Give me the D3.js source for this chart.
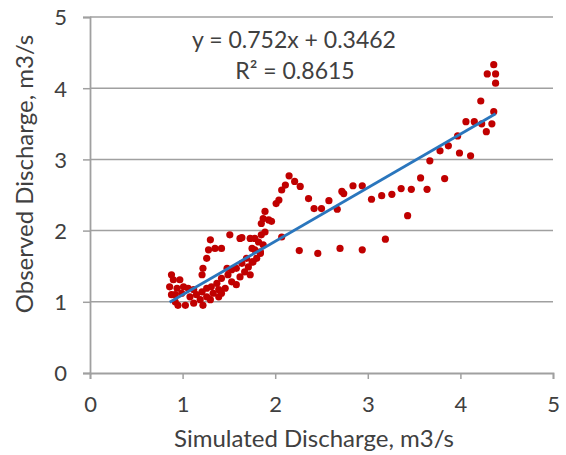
<!DOCTYPE html>
<html><head><meta charset="utf-8">
<script src="https://cdn.jsdelivr.net/npm/d3@7"></script>
<style>
html,body{margin:0;padding:0;background:#fff;}
svg{display:block;}
text{font-family:"Lato","Open Sans",sans-serif;fill:#404040;}
</style></head>
<body>
<svg id="chart" width="566" height="455"></svg>
<script>
// Data
const simulated = [
  0.86,0.88,0.88,0.90,0.92,0.92,0.94,0.95,0.97,0.99,1.01,1.03,1.06,1.08,1.12,1.12,1.15,1.19,1.21,1.21,1.22,1.22,
  1.26,1.26,1.26,1.28,1.30,1.30,1.31,1.33,1.35,1.37,1.39,1.39,1.42,1.42,1.42,1.46,1.48,1.49,1.51,1.53,1.53,
  1.58,1.58,1.62,1.62,1.64,1.64,1.67,1.69,1.71,1.73,1.73,1.75,1.75,1.76,1.78,1.78,1.80,1.82,1.84,1.84,1.85,
  1.85,1.87,1.87,1.89,1.89,1.93,1.96,2.01,2.04,2.07,2.07,2.11,2.15,2.21,2.26,2.27,2.36,2.42,2.46,2.50,2.58,
  2.67,2.70,2.72,2.74,2.84,2.94,2.94,3.04,3.15,3.19,3.26,3.36,3.43,3.47,3.57,3.64,3.67,3.78,3.83,3.87,3.97,
  3.99,4.06,4.11,4.15,4.22,4.23,4.28,4.29,4.34,4.36,4.36,4.38,4.38
];
const observed = [
  1.21,1.38,1.10,1.31,1.00,1.10,1.19,0.95,1.31,1.12,1.21,0.95,1.19,1.07,1.17,0.98,1.10,1.03,1.14,1.38,1.47,0.95,
  1.61,1.19,1.07,1.73,1.87,1.03,1.21,1.12,1.75,1.26,1.17,1.07,1.75,1.33,1.12,1.19,1.47,1.38,1.94,1.28,1.45,
  1.24,1.47,1.35,1.89,1.54,1.90,1.42,1.61,1.49,1.38,1.89,1.56,1.75,1.56,1.73,1.89,1.61,1.84,1.70,1.68,1.94,
  2.10,1.80,2.17,1.98,2.27,2.15,2.13,2.38,2.43,2.57,1.91,2.64,2.77,2.69,1.72,2.62,2.45,2.31,1.68,2.31,2.42,
  2.30,1.75,2.55,2.52,2.63,2.63,1.73,2.44,2.49,1.88,2.51,2.59,2.21,2.58,2.74,2.58,2.98,3.12,2.73,3.19,3.33,
  3.09,3.53,3.05,3.53,3.82,3.50,3.39,4.20,3.50,3.67,4.33,4.20,4.07
];
const xTicks = [0,1,2,3,4,5];
const yTicks = [0,1,2,3,4,5];
const slope = 0.752, intercept = 0.3462;
const eqLabel = "y = 0.752x + 0.3462";
const r2Label = "R² = 0.8615";
const xTitle = "Simulated Discharge, m3/s";
const yTitle = "Observed Discharge, m3/s";

(function(){
const svg = d3.select("#chart");
const mLeft = 90, mRight = 553, mTop = 17, mBottom = 373;
const x = d3.scaleLinear().domain([0,5]).range([mLeft,mRight]);
const y = d3.scaleLinear().domain([0,5]).range([mBottom,mTop]);
const gridColor = "#a0a0a0";

// gridlines
svg.append("g").selectAll("line").data(yTicks.filter(d=>d>0)).join("line")
  .attr("x1",mLeft).attr("x2",mRight)
  .attr("y1",d=>y(d)).attr("y2",d=>y(d))
  .attr("stroke",gridColor).attr("stroke-width",1.5);

// axes
const xAxis = svg.append("g").attr("transform",`translate(0,${mBottom})`)
  .call(d3.axisBottom(x).tickValues(xTicks).tickFormat(d3.format("d")).tickSize(6).tickPadding(17));
const yAxis = svg.append("g").attr("transform",`translate(${mLeft},0)`)
  .call(d3.axisLeft(y).tickValues(yTicks).tickFormat(d3.format("d")).tickSize(7).tickPadding(16));
[xAxis,yAxis].forEach(g=>{
  g.select(".domain").attr("stroke",gridColor).attr("stroke-width",1.8);
  g.selectAll(".tick line").attr("stroke",gridColor).attr("stroke-width",1.5);
  g.selectAll(".tick text").attr("font-size",22).attr("fill","#404040")
    .style("font-family",'"Lato","Open Sans",sans-serif');
});
yAxis.selectAll(".tick text").attr("dy","0.36em");

// points
const pts = simulated.map((s,i)=>({s, o:observed[i]}));
svg.append("g").selectAll("circle").data(pts).join("circle")
  .attr("cx",d=>x(d.s)).attr("cy",d=>y(d.o)).attr("r",3.6)
  .attr("fill","#c00000");

// trendline
const ext = d3.extent(simulated);
svg.append("line")
  .attr("x1",x(ext[0])).attr("y1",y(slope*ext[0]+intercept))
  .attr("x2",x(ext[1])).attr("y2",y(slope*ext[1]+intercept))
  .attr("stroke","#2a76bd").attr("stroke-width",2.8);

// equation
svg.append("text").attr("x",294).attr("y",48).attr("text-anchor","middle")
  .attr("font-size",23).text(eqLabel);
svg.append("text").attr("x",295).attr("y",79).attr("text-anchor","middle")
  .attr("font-size",23).text(r2Label);

// axis titles
svg.append("text").attr("x",314).attr("y",447).attr("text-anchor","middle")
  .attr("font-size",24).text(xTitle);
svg.append("text").attr("transform","translate(33,174) rotate(-90)")
  .attr("text-anchor","middle").attr("font-size",24).text(yTitle);
})();
</script>
</body></html>
